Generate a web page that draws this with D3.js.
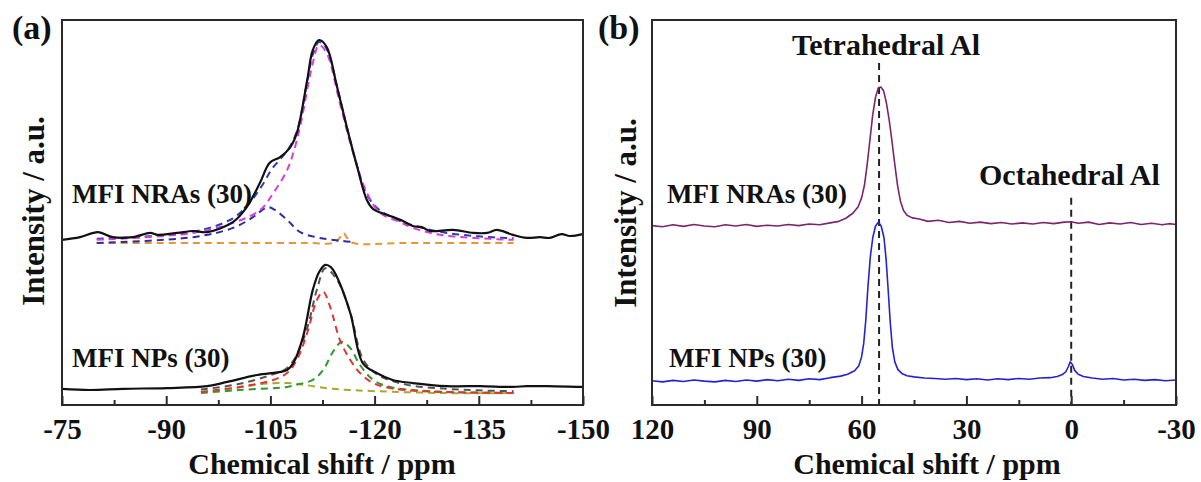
<!DOCTYPE html>
<meta charset="utf-8">
<script src="https://d3js.org/d3.v7.min.js"></script>
<style>
  body { margin: 0; background: #fff; }
  text { font-family: "Liberation Serif", "Times New Roman", serif; font-weight: bold; fill: #111; }
</style>
<div id="chart"></div>
<script>
// ---- tick labels ----
var siTicks = [-75, -90, -105, -120, -135, -150];
var siMinor = [-82.5, -97.5, -112.5, -127.5, -142.5];
var alTicks = [120, 90, 60, 30, 0, -30];
var alMinor = [105, 75, 45, 15, -15];

// ---- (a) 29Si spectra: [ppm, intensity a.u. (offset as plotted)] ----
var siNRAs = [[-75,42.9],[-77.6,43.6],[-80.2,44.9],[-82.3,43.6],[-85.2,43.6],[-87.7,44.7],[-88.7,44.2],
  [-91.6,44.7],[-93.9,45.2],[-95.9,44.9],[-99.6,47.5],[-101.6,51.4],[-103.5,57.7],[-104.9,62.9],
  [-106.4,64.4],[-107.8,66.8],[-108.8,70.6],[-110.3,84.4],[-111.1,92.2],[-112.0,94.8],[-113.1,93.0],
  [-114.6,82.6],[-116.0,72.2],[-117.5,61.8],[-118.9,53.2],[-119.8,50.9],[-121.8,49.4],[-123.7,48.1],
  [-125.5,46.5],[-126.8,46.2],[-128.0,45.2],[-131.3,45.5],[-134.2,44.7],[-136.2,44.7],[-137.6,45.5],
  [-139.9,44.2],[-141.9,43.4],[-143.8,43.6],[-145.2,43.4],[-146.9,44.4],[-148.1,43.9],[-150,44.4]];
var siNRAsSum = [[-80,43.2],[-93.9,45.0],[-99.6,48.5],[-102,52.5],[-103.8,57.0],[-105.3,61.5],[-107.4,66],
  [-108.8,71],[-110.3,84],[-111.1,91],[-112,94.3],[-113.1,92.5],[-114.6,82.6],[-116,72.2],[-117.5,62],
  [-118.9,54.5],[-120.8,50.5],[-123.7,47.8],[-126,46.4],[-130,44.8],[-135,43.8],[-140,43.3]];
var siNRAsQ4 = [[-80,42.9],[-93.9,44.7],[-99.6,47.3],[-103.5,50.6],[-105.4,55.0],[-107.4,61.0],[-108.3,65.5],
  [-109.3,72.5],[-111.1,88.8],[-112.0,93.5],[-113.1,91.4],[-115.0,78.4],[-116.9,65.5],[-118.9,55.1],
  [-120.8,49.9],[-123.7,47.5],[-125.5,46.0],[-129.4,44.2],[-134.2,43.4],[-140,42.9]];
var siNRAsQ3 = [[-80,42.1],[-93.9,43.6],[-99.6,46.0],[-102.5,48.8],[-103.8,50.6],[-104.7,51.4],[-105.7,50.6],
  [-107.4,48.1],[-109.3,44.9],[-112.1,43.4],[-115.4,42.6],[-117,42.3]];
var siNRAsQ2 = [[-80,42.1],[-100,42.1],[-110,42.1],[-114.3,42.2],[-115.0,43.5],[-115.5,44.7],[-116.0,43.5],
  [-116.7,42.2],[-125,42.1],[-140,42.1]];

var siNPs = [[-75,4.2],[-79.0,3.9],[-83.8,4.2],[-90.1,4.4],[-95.9,4.9],[-98.8,6.0],[-103.1,7.8],[-107.4,9.1],
  [-108.3,10.9],[-109.7,17.7],[-111.1,29.9],[-112.0,34.5],[-112.9,36.4],[-113.7,35.8],[-114.6,33.2],
  [-116.5,23.9],[-118.3,10.9],[-120.3,8.3],[-122.6,6.5],[-125.5,5.7],[-130.4,4.9],[-135.2,4.9],
  [-139.9,4.7],[-141.9,4.9],[-144.8,4.9],[-149.6,4.7],[-150,4.7]];
var siNPsSum = [[-95,4.0],[-100.6,5.5],[-105.4,8.0],[-107.4,9.6],[-108.8,13],[-110.3,20],[-111.7,30],
  [-112.9,35.5],[-114.6,32.5],[-116.5,24],[-118.3,12],[-120.3,8.0],[-122.6,6.2],[-125.5,5.0],
  [-130.4,4.2],[-135,3.8],[-140,3.6]];
var siNPsQ4a = [[-95,3.4],[-100.6,4.7],[-105.4,6.5],[-107.4,8.3],[-108.8,11.7],[-110.3,18.7],[-111.7,27.3],
  [-112.6,29.4],[-113.6,25.5],[-115.0,16.9],[-116.5,11.7],[-117.9,8.3],[-119.8,5.7],[-122.2,4.4],
  [-126.5,3.6],[-140,3.1]];
var siNPsQ4b = [[-95,3.1],[-100.6,3.9],[-107.4,4.7],[-109.3,5.5],[-111.1,6.5],[-112.6,9.1],[-114.0,13.8],
  [-115.3,16.4],[-116.5,14.8],[-117.9,10.4],[-119.8,6.5],[-122.2,4.7],[-125.5,3.9],[-130.4,3.4],[-140,3.1]];
var siNPsQ3 = [[-95,3.4],[-100,4.4],[-104,5.5],[-107.4,5.7],[-110,5.2],[-114,4.2],[-120,3.6],[-130,3.1],[-140,3.1]];

// ---- (b) 27Al spectra ----
var alNRAs = [[120,46.6],[117,46.3],[114,46.8],[111,46.4],[108,46.9],[105,46.5],[102,46.3],[99,46.8],[96,46.5],
  [93,46.9],[90,46.4],[87,46.7],[84,46.5],[81,46.9],[78,46.6],[75,47.0],[72,46.8],[69,47.3],[66.5,47.7],
  [64.5,48.5],[62.5,49.8],[61,51.5],[60,53.8],[59.2,57],[58.4,62.5],[57.6,69],[56.8,75.5],[56,80],
  [55.2,82.4],[54.5,82.6],[53.7,81.6],[52.9,78.5],[52.1,74],[51.3,68.5],[50.5,62.5],[49.7,57],[48.9,53],
  [48,50.5],[47,49.3],[45.5,48.6],[43.5,48.3],[41,47.7],[38,48.0],[35,47.4],[32,47.7],[29,47.2],[26,47.5],
  [23,47.1],[20,47.4],[17,47.0],[14,47.3],[11,47.0],[8,47.4],[5,47.1],[2,47.5],[0,47.6],[-2,47.2],
  [-5,47.5],[-8,46.9],[-11,47.3],[-14,47.0],[-17,47.4],[-20,46.9],[-23,47.2],[-26,46.8],[-28,47.1],[-30,46.9]];
var alNPs = [[120,6.3],[117,6.0],[114,6.4],[111,6.1],[108,6.5],[105,6.2],[102,6.0],[99,6.4],[96,6.1],[93,6.5],
  [90,6.2],[87,6.6],[84,6.3],[81,6.7],[78,6.4],[75,6.8],[72,6.6],[69,7.1],[66,7.5],[64,8.0],[62,8.9],
  [60.8,10.2],[60,12.5],[59.4,16],[58.8,22],[58.2,30.5],[57.5,38.5],[56.8,43.5],[56,46.5],[55.2,47.5],
  [54.4,46.5],[53.6,43.5],[53,38],[52.4,30],[51.8,21.5],[51.2,15],[50.5,11.2],[49.6,9.2],[48.5,8.2],
  [47,7.6],[45,7.3],[42,7.0],[39,6.9],[36,6.7],[33,6.9],[30,6.6],[27,6.8],[24,6.5],[21,6.8],[18,6.6],
  [15,6.9],[12,6.7],[9,7.0],[6,7.1],[4,7.4],[2.5,7.9],[1.5,8.7],[0.8,10],[0.3,11.2],[-0.3,10.6],[-1,9.0],
  [-2,8.0],[-3.5,7.4],[-6,7.0],[-9,6.7],[-12,6.9],[-15,6.5],[-18,6.7],[-21,6.4],[-24,6.6],[-27,6.3],[-30,6.5]];

// reference lines in (b): [ppm, top intensity]
var alMarkers = [[55, 88.8], [0, 53.8]];

var width = 1201, height = 482;
var svg = d3.select("#chart").append("svg")
  .attr("width", width).attr("height", height);

var y = d3.scaleLinear().domain([0, 100]).range([405, 20]);
var xA = d3.scaleLinear().domain([-75, -150]).range([62, 583]);
var xB = d3.scaleLinear().domain([120, -30]).range([652, 1176]);

function drawLine(x, pts, color, w, dash, curve) {
  svg.append("path")
    .datum(pts)
    .attr("fill", "none")
    .attr("stroke", color)
    .attr("stroke-width", w)
    .attr("stroke-dasharray", dash || null)
    .attr("stroke-linejoin", "round")
    .attr("d", d3.line()
      .x(function(d) { return x(d[0]); })
      .y(function(d) { return y(d[1]); })
      .curve(curve || d3.curveCatmullRom.alpha(0.5)));
}

function drawFrame(x, majors, minors) {
  var r = x.range();
  svg.append("rect")
    .attr("x", r[0]).attr("y", 20)
    .attr("width", r[1] - r[0]).attr("height", 385)
    .attr("fill", "none").attr("stroke", "#2a2a2a").attr("stroke-width", 2);
  var ax = svg.append("g").attr("transform", "translate(0,405)")
    .call(d3.axisBottom(x).tickValues(majors).tickSize(-9).tickFormat(function(d) { return String(d); }));
  ax.select(".domain").remove();
  ax.selectAll("line").attr("stroke", "#2a2a2a").attr("stroke-width", 2);
  ax.selectAll("text").attr("y", 34).attr("dy", 0).style("font-size", "29px");
  var mx = svg.append("g").attr("transform", "translate(0,405)")
    .call(d3.axisBottom(x).tickValues(minors).tickSize(-5).tickFormat(""));
  mx.select(".domain").remove();
  mx.selectAll("line").attr("stroke", "#2a2a2a").attr("stroke-width", 2);
}

function label(txt, x, yy, size, anchor) {
  return svg.append("text").attr("x", x).attr("y", yy)
    .attr("text-anchor", anchor || "start")
    .style("font-size", size + "px").text(txt);
}

// ---- panel (a) ----
var dash = "7,5";
drawLine(xA, siNRAsQ2, "#e8962e", 2, dash);
drawLine(xA, siNRAsQ3, "#2b2f9c", 2, dash);
drawLine(xA, siNRAsSum, "#2b3fb8", 2, dash);
drawLine(xA, siNRAsQ4, "#d63fd6", 2, dash);
drawLine(xA, siNRAs, "#111", 2.2);

drawLine(xA, siNPsQ3, "#a8a830", 2, dash);
drawLine(xA, siNPsQ4b, "#2e9a2e", 2, dash);
drawLine(xA, siNPsQ4a, "#e03535", 2, dash);
drawLine(xA, siNPsSum, "#555", 2, dash);
drawLine(xA, siNPs, "#111", 2.2);

drawFrame(xA, siTicks, siMinor);

// ---- panel (b) ----
alMarkers.forEach(function(m) {
  svg.append("line")
    .attr("x1", xB(m[0])).attr("x2", xB(m[0]))
    .attr("y1", y(m[1])).attr("y2", y(0))
    .attr("stroke", "#222").attr("stroke-width", 2).attr("stroke-dasharray", "7,5");
});
drawLine(xB, alNRAs, "#7b256f", 1.6, null, d3.curveLinear);
drawLine(xB, alNPs, "#2424cc", 1.6, null, d3.curveLinear);

drawFrame(xB, alTicks, alMinor);

// ---- text ----
label("(a)", 12, 39, 34);
label("(b)", 598, 39, 34);
label("MFI NRAs (30)", 72, 203, 27);
label("MFI NPs (30)", 72, 367, 27);
label("MFI NRAs (30)", 667, 203, 27);
label("MFI NPs (30)", 669, 367, 27);
label("Tetrahedral Al", 792, 55, 30);
label("Octahedral Al", 979, 185, 30);
label("Chemical shift / ppm", 322, 474, 30, "middle");
label("Chemical shift / ppm", 927, 474, 30, "middle");

svg.append("text").attr("transform", "translate(44,211) rotate(-90)")
  .attr("text-anchor", "middle").style("font-size", "31px").text("Intensity / a.u.");
svg.append("text").attr("transform", "translate(636,213) rotate(-90)")
  .attr("text-anchor", "middle").style("font-size", "31px").text("Intensity / a.u.");
</script>
